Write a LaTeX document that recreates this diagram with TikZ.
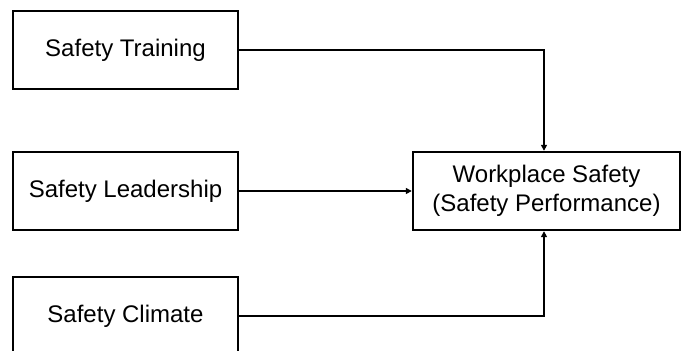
\documentclass[tikz,border=0pt]{standalone}
\usepackage{fontspec}
\setmainfont{Liberation Sans}
\usetikzlibrary{arrows.meta,positioning}
\begin{document}
\begin{tikzpicture}[x=1pt, y=-1pt, line width=2pt]
   \useasboundingbox (0,0) rectangle (681,351);
   \begin{scope}[every node/.style={draw, line width=2.4pt, minimum width=225pt, minimum height=78pt, inner sep=0pt, align=center, font=\fontsize{24}{29}\selectfont}]
    \node (train) at (125.5,50) {Safety Training};
    \node (lead) at (125.5,191) {Safety Leadership};
    \node (clim) at (125.5,316) {Safety Climate};
    \node (work) [minimum width=267pt] at (546.5,191) {Workplace Safety\\(Safety Performance)};
   \end{scope}
   \begin{scope}[-{Triangle[length=6pt,width=6pt]}]
    \draw (train) -| ([xshift=-2.5pt]work.north);
    \draw (lead) -- (work);
    \draw (clim) -| ([xshift=-2.5pt]work.south);
   \end{scope}
\end{tikzpicture}
\end{document}
